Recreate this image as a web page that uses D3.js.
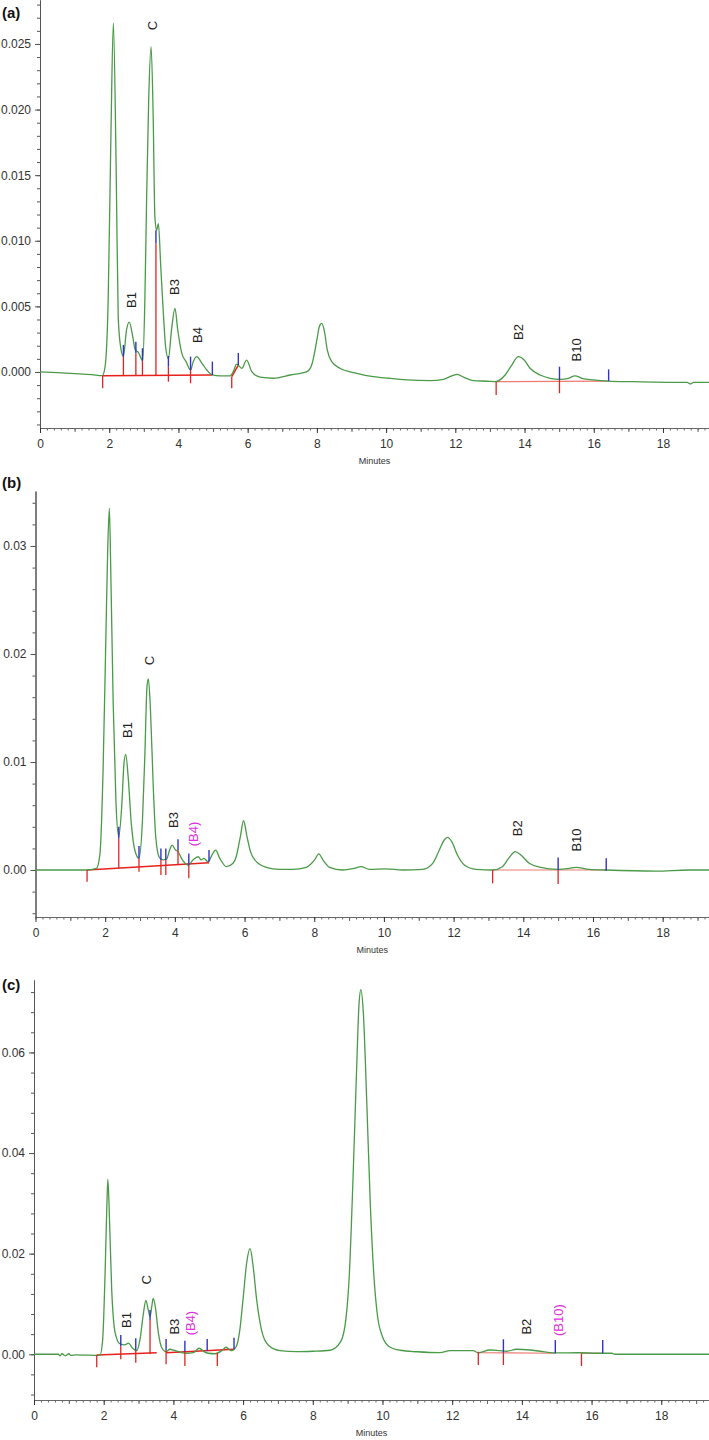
<!DOCTYPE html>
<html><head><meta charset="utf-8">
<script src="https://cdn.jsdelivr.net/npm/d3@7/dist/d3.min.js"></script>
<style>body{margin:0;background:#fff}svg{display:block}</style>
</head><body>
<script>
// ---------- DATA (times in minutes, absorbance in AU) ----------
const traceA = [[0,0.00000],[0.5,-0.00005],[1.0,-0.00012],[1.5,-0.0002],[1.8,-0.00028],[1.88,0.0004],[1.97,0.0055],[2.05,0.0182],[2.12,0.0266],[2.2,0.0156],[2.26,0.0042],[2.33,0.0019],[2.41,0.0012],[2.5,0.0032],[2.58,0.0038],[2.68,0.0027],[2.75,0.0017],[2.84,0.0015],[2.97,0.00086],[3.03,0.0055],[3.08,0.0131],[3.14,0.0207],[3.21,0.0248],[3.27,0.0195],[3.32,0.0118],[3.37,0.0108],[3.42,0.0113],[3.49,0.008],[3.57,0.0042],[3.63,0.0019],[3.71,0.001],[3.8,0.0032],[3.9,0.00485],[3.98,0.0032],[4.1,0.0014],[4.22,0.00079],[4.35,0.00015],[4.43,0.0008],[4.53,0.00117],[4.67,0.0007],[4.82,0.00015],[4.98,-0.00023],[5.2,-0.0003],[5.49,-0.0003],[5.59,0.00005],[5.68,0.0006],[5.83,0.00028],[5.97,0.00091],[6.12,0.00002],[6.36,-0.0004],[6.74,-0.00048],[7.23,-0.00023],[7.71,0.00002],[7.85,0.00053],[8.0,0.00244],[8.07,0.00345],[8.14,0.0037],[8.22,0.00307],[8.3,0.00168],[8.43,0.00079],[8.67,0.00028],[9.15,-0.0001],[9.63,-0.00036],[10.07,-0.00048],[10.6,-0.0006],[11.27,-0.00066],[11.66,-0.00056],[11.9,-0.0003],[12.06,-0.00018],[12.24,-0.0004],[12.52,-0.00066],[13.0,-0.00071],[13.15,-0.00074],[13.44,-0.00023],[13.63,0.00053],[13.82,0.00117],[13.99,0.00091],[14.16,0.00028],[14.45,-0.00023],[14.74,-0.00048],[15.03,-0.00056],[15.27,-0.00048],[15.46,-0.0003],[15.66,-0.00048],[15.99,-0.0006],[16.42,-0.00069],[17.15,-0.00074],[18.11,-0.00079],[18.7,-0.0008],[18.79,-0.00091],[18.88,-0.0008],[19.33,-0.00079]];
const traceB = [[0,0],[1.0,0],[1.47,0],[1.75,0.00015],[1.85,0.0015],[1.94,0.0093],[2.02,0.0216],[2.07,0.0293],[2.12,0.0335],[2.16,0.0278],[2.23,0.0154],[2.31,0.0062],[2.39,0.0031],[2.48,0.0062],[2.54,0.0099],[2.59,0.0107],[2.66,0.0086],[2.75,0.0043],[2.85,0.00185],[2.97,0.00108],[3.07,0.0046],[3.14,0.0108],[3.2,0.017],[3.24,0.0177],[3.3,0.0148],[3.38,0.0077],[3.45,0.0031],[3.55,0.0012],[3.66,0.00093],[3.76,0.001],[3.85,0.00185],[3.92,0.0023],[4.02,0.00185],[4.09,0.0017],[4.19,0.00108],[4.38,0.00046],[4.52,0.00093],[4.67,0.00123],[4.76,0.00093],[4.83,0.00108],[4.95,0.00077],[5.09,0.00154],[5.17,0.00185],[5.29,0.00108],[5.48,0.00031],[5.67,0.00062],[5.76,0.00123],[5.88,0.0031],[5.97,0.00456],[6.07,0.0031],[6.17,0.0017],[6.34,0.00077],[6.62,0.00025],[7.0,0.00006],[7.39,0.00006],[7.77,0.00025],[8.01,0.00093],[8.13,0.0015],[8.25,0.00093],[8.44,0.00025],[8.82,0],[9.11,0.00012],[9.35,0.00031],[9.58,0.00006],[10.06,0.0001],[10.54,0],[11.11,0.00006],[11.4,0.00062],[11.59,0.00185],[11.73,0.00278],[11.83,0.00302],[11.95,0.0026],[12.11,0.00139],[12.31,0.00046],[12.64,0.00006],[13.12,0],[13.4,0.00031],[13.6,0.00117],[13.77,0.0017],[13.93,0.00139],[14.17,0.00062],[14.5,0.00025],[14.98,0.00006],[15.32,0.00015],[15.51,0.00025],[15.89,0.00006],[16.37,0],[17.8,-0.0001],[18.75,0],[19.33,0]];
const traceC = [[0,0],[0.7,0],[0.75,-0.0003],[0.8,0.0001],[0.9,-0.0003],[1.0,0.0001],[1.06,-0.0002],[1.2,-0.0001],[1.89,-0.0002],[1.97,0.00285],[2.04,0.0161],[2.09,0.0293],[2.12,0.0348],[2.17,0.026],[2.23,0.0128],[2.3,0.0055],[2.37,0.0032],[2.47,0.00205],[2.61,0.00185],[2.71,0.0022],[2.83,0.0012],[2.95,0.00072],[3.04,0.00285],[3.14,0.00815],[3.21,0.0107],[3.28,0.0088],[3.33,0.0075],[3.38,0.0095],[3.42,0.0111],[3.48,0.0095],[3.57,0.0042],[3.66,0.0014],[3.79,0.00052],[3.9,0.001],[4.05,0.00072],[4.24,0.00033],[4.38,0.0002],[4.57,0.00033],[4.74,0.0012],[4.88,0.00052],[5.0,0.0002],[5.19,0.0001],[5.39,0.00072],[5.51,0.0014],[5.67,0.00072],[5.8,0.0015],[5.9,0.0045],[6.0,0.011],[6.1,0.018],[6.2,0.021],[6.29,0.0174],[6.39,0.0108],[6.53,0.0048],[6.72,0.00185],[7.06,0.00072],[7.54,0.00052],[8.0,0.0006],[8.5,0.0008],[8.8,0.0025],[8.95,0.007],[9.05,0.016],[9.15,0.034],[9.25,0.055],[9.33,0.07],[9.38,0.0725],[9.45,0.068],[9.55,0.05],[9.65,0.03],[9.75,0.016],[9.85,0.008],[10.0,0.0035],[10.2,0.0015],[10.5,0.0008],[11.0,0.0005],[11.65,0.00033],[11.94,0.00072],[12.6,0.00072],[12.75,0.0003],[13.08,0.00085],[13.36,0.00072],[13.56,0.0006],[13.85,0.001],[14.23,0.00085],[14.52,0.0006],[14.95,0.00026],[15.67,0.0003],[16.15,0.0002],[16.58,0.0002],[16.67,0],[17.39,0],[19.37,0]];

// integration marks: [time, top value, bottom value]
const blueA = [[2.41,0.00206,0.00117],[2.77,0.00231,0.00142],[2.96,0.00181,0.00086],[3.35,0.0108,0.0098],[3.71,0.00122,0.0004],[4.35,0.00117,0.00015],[4.98,0.00079,-0.00023],[5.73,0.00145,0.00053],[15.01,0.0004,-0.0006],[16.43,0.0002,-0.00069]];
const redA = [[1.81,-0.00028,-0.00124],[2.41,0.0012,-0.00028],[2.77,0.00142,-0.00028],[2.96,0.00086,-0.00028],[3.35,0.0098,-0.00028],[3.71,0.0004,-0.00074],[4.35,0.00028,-0.00086],[5.54,-0.00036,-0.00124],[13.18,-0.00074,-0.00175],[15.01,-0.0006,-0.00162]];
// baselines: [t1, v1, t2, v2]
const baseA = [[1.81,-0.00028,4.98,-0.00023],[5.54,-0.00036,5.73,0.00053]];
const baseA2 = [[13.18,-0.00074,16.43,-0.00069]];

const blueB = [[2.39,0.004,0.00292],[2.97,0.00222,0.00108],[3.6,0.002,0.00093],[3.74,0.002,0.00093],[4.09,0.00284,0.00185],[4.4,0.00154,0.00046],[4.98,0.00185,0.00077],[15.0,0.00117,0],[16.38,0.00108,-0.00006]];
const redB = [[1.48,0,-0.00108],[2.39,0.00292,0.00015],[2.97,0.00108,-0.00016],[3.6,0.00093,-0.00046],[3.74,0.00093,-0.00046],[4.09,0.00185,0.00053],[4.4,0.00062,-0.00077],[13.12,0,-0.00123],[15.0,0,-0.0013]];
const baseB = [[1.48,0,4.98,0.00067]];
const baseB2 = [[13.12,0,16.37,0]];

const blueC = [[2.49,0.00384,0.00165],[2.92,0.00318,0.00085],[3.33,0.0088,0.0068],[3.79,0.00304,0.00085],[4.33,0.0027,0.00052],[4.97,0.00304,0.00066],[5.74,0.0033,0.001],[13.47,0.00298,0.00032],[14.96,0.00284,0.0002],[16.32,0.00284,0.0002]];
const redC = [[1.8,-0.00014,-0.00258],[2.49,0.00165,-0.001],[2.92,0.00085,-0.00167],[3.33,0.0068,0.00006],[3.79,0.00085,-0.00199],[4.33,0.00052,-0.00233],[5.26,0.00032,-0.00233],[12.75,0.00052,-0.00213],[13.47,0.00032,-0.00213],[15.71,0.0002,-0.00233]];
const baseC = [[1.8,-0.00014,3.52,0.00032],[3.79,0.00032,5.74,0.001]];
const baseC2 = [[12.75,0.0003,14.96,0.0002],[15.71,0.0002,16.32,0.0002]];

// peak labels: [text, time, value, identified?]
const labelsA = [["B1",2.63,0.00549,1],["C",3.24,0.0264,1],["B3",3.9,0.00648,1],["B4",4.54,0.00282,1],["B2",13.82,0.00305,1],["B10",15.49,0.00168,1]];
const labelsB = [["B1",2.65,0.01296,1],["C",3.26,0.0194,1],["B3",3.95,0.00463,1],["(B4)",4.53,0.00333,0],["B2",13.82,0.00386,1],["B10",15.53,0.00278,1]];
const labelsC = [["B1",2.66,0.0068,1],["C",3.23,0.0148,1],["B3",4.02,0.0055,1],["(B4)",4.48,0.0062,0],["B2",14.12,0.0055,1],["(B10)",15.04,0.0068,0]];

const yTicksA = [0,0.005,0.010,0.015,0.020,0.025];
const yTicksB = [0,0.01,0.02,0.03];
const yTicksC = [0,0.02,0.04,0.06];
const xTicks = [0,2,4,6,8,10,12,14,16,18];
const panelNames = ["(a)","(b)","(c)"];

// ---------- LAYOUT ----------
const W = 709, H = 1440;
const svg = d3.select("body").append("svg").attr("width", W).attr("height", H);
const FONT = "Liberation Sans, Arial, sans-serif";

const panels = [
  {name: panelNames[0], trace: traceA, blue: blueA, red: redA, base: baseA, base2: baseA2, labels: labelsA,
   yTicks: yTicksA, fmt: d3.format(".3f"), minor: 0.001, x0: 40, xMax: 19.33, top: 0, bot: 428, yDom: [-0.00427, 0.02835], nameY: 18},
  {name: panelNames[1], trace: traceB, blue: blueB, red: redB, base: baseB, base2: baseB2, labels: labelsB,
   yTicks: yTicksB, fmt: d3.format(".2f"), minor: 0.002, x0: 35.5, xMax: 19.33, top: 491, bot: 917, yDom: [-0.00435, 0.03509], nameY: 488},
  {name: panelNames[2], trace: traceC, blue: blueC, red: redC, base: baseC, base2: baseC2, labels: labelsC,
   yTicks: yTicksC, fmt: d3.format(".2f"), minor: 0.004, x0: 34, xMax: 19.37, top: 980, bot: 1400, yDom: [-0.00909, 0.0744], nameY: 990}
];

const axisColor = "#555";
panels.forEach(p => {
  const x = d3.scaleLinear().domain([0, p.xMax]).range([p.x0, W]);
  const y = d3.scaleLinear().domain(p.yDom).range([p.bot, p.top]);
  const g = svg.append("g");

  // y axis minor
  const minorY = d3.range(Math.ceil(p.yDom[0] / p.minor), Math.floor(p.yDom[1] / p.minor) + 1).map(i => i * p.minor);
  g.append("g").attr("transform", `translate(${p.x0},0)`)
    .call(d3.axisLeft(y).tickValues(minorY).tickSize(3).tickFormat("").tickSizeOuter(0))
    .call(a => a.selectAll("line,path").attr("stroke", axisColor));
  g.append("g").attr("transform", `translate(${p.x0},0)`)
    .call(d3.axisLeft(y).tickValues(p.yTicks).tickSize(5).tickFormat(p.fmt).tickSizeOuter(0))
    .call(a => a.selectAll("line,path").attr("stroke", axisColor))
    .call(a => a.selectAll("text").attr("font-family", FONT).attr("font-size", 12).attr("fill", "#333").attr("dx", "-1"));

  // x axis
  const minorX = d3.range(0, Math.floor(p.xMax * 5) + 1).map(i => i / 5);
  const midX = d3.range(1, Math.floor(p.xMax) + 1, 2);
  g.append("g").attr("transform", `translate(0,${p.bot})`)
    .call(d3.axisBottom(x).tickValues(minorX).tickSize(2.5).tickFormat("").tickSizeOuter(0))
    .call(a => a.selectAll("line,path").attr("stroke", "#666"));
  g.append("g").attr("transform", `translate(0,${p.bot})`)
    .call(d3.axisBottom(x).tickValues(midX).tickSize(4).tickFormat("").tickSizeOuter(0))
    .call(a => a.select("path").remove())
    .call(a => a.selectAll("line").attr("stroke", "#666"));
  g.append("g").attr("transform", `translate(0,${p.bot})`)
    .call(d3.axisBottom(x).tickValues(xTicks).tickSize(5).tickPadding(6).tickFormat(d3.format("d")).tickSizeOuter(0))
    .call(a => a.select("path").remove())
    .call(a => a.selectAll("line").attr("stroke", "#333"))
    .call(a => a.selectAll("text").attr("font-family", FONT).attr("font-size", 12).attr("fill", "#333"));
  g.append("text").attr("x", (p.x0 + W) / 2).attr("y", p.bot + 36).attr("text-anchor", "middle")
    .attr("font-family", FONT).attr("font-size", 9).attr("fill", "#333").text("Minutes");

  // panel name
  g.append("text").attr("x", 2).attr("y", p.nameY).attr("font-family", FONT).attr("font-weight", "bold")
    .attr("font-size", 15).attr("fill", "#111").text(p.name);

  // baselines
  g.selectAll(".b1").data(p.base).join("line")
    .attr("x1", d => x(d[0])).attr("y1", d => y(d[1])).attr("x2", d => x(d[2])).attr("y2", d => y(d[3]))
    .attr("stroke", "#e8201c").attr("stroke-width", 1.5);
  g.selectAll(".b2").data(p.base2).join("line")
    .attr("x1", d => x(d[0])).attr("y1", d => y(d[1])).attr("x2", d => x(d[2])).attr("y2", d => y(d[3]))
    .attr("stroke", "#ee7a70").attr("stroke-width", 1.2);

  // trace
  const line = d3.line().x(d => x(d[0])).y(d => y(d[1])).curve(d3.curveMonotoneX);
  g.append("path").datum(p.trace).attr("d", line).attr("fill", "none")
    .attr("stroke", "#4a9a48").attr("stroke-width", 1.3).attr("stroke-linejoin", "round");

  // red drop lines / ticks
  g.selectAll(".r").data(p.red).join("line")
    .attr("x1", d => x(d[0])).attr("x2", d => x(d[0])).attr("y1", d => y(d[1])).attr("y2", d => y(d[2]))
    .attr("stroke", "#e02424").attr("stroke-width", 1.3);
  // blue ticks
  g.selectAll(".bl").data(p.blue).join("line")
    .attr("x1", d => x(d[0])).attr("x2", d => x(d[0])).attr("y1", d => y(d[1])).attr("y2", d => y(d[2]))
    .attr("stroke", "#3232c8").attr("stroke-width", 1.4);

  // labels
  g.selectAll(".lab").data(p.labels).join("text")
    .attr("transform", d => `translate(${x(d[1]) + 4.5},${y(d[2])}) rotate(-90)`)
    .attr("text-anchor", "middle").attr("font-family", FONT).attr("font-size", 13)
    .attr("fill", d => d[3] ? "#222" : "#e030e0").text(d => d[0]);
});
</script>
</body></html>
